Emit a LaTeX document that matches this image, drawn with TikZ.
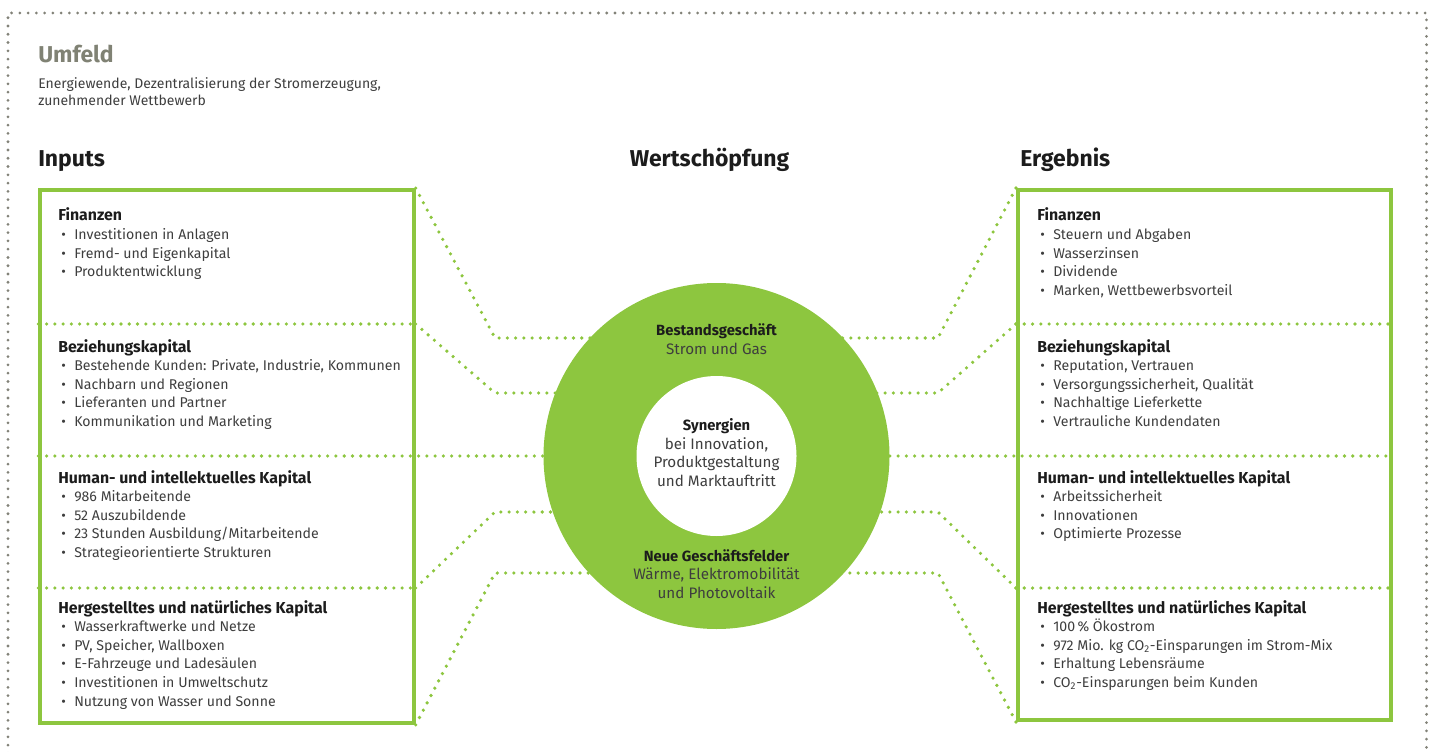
\documentclass[tikz,border=0pt]{standalone}
\usepackage{fontspec}
\setmainfont{Fira Sans}
\usetikzlibrary{calc}
\definecolor{grn}{RGB}{141,198,63}
\definecolor{frm}{RGB}{130,130,120}
\definecolor{umf}{RGB}{128,130,116}
\definecolor{txt}{RGB}{62,62,62}
\definecolor{hd}{RGB}{28,28,28}
\newcommand{\bul}{\hspace*{2.4pt}\makebox[9.6pt][l]{\raisebox{0pt}{\fontsize{10.5}{10}\selectfont •}}}
\tikzset{
  framedots/.style={frm, line width=2.3pt, line cap=round, dash pattern=on 0pt off 6.2pt},
  gdot/.style={grn, line width=2.7pt, line cap=round, dash pattern=on 0pt off 6.2pt},
  gbox/.style={draw=grn, line width=3pt, inner sep=0pt, fill=none},
  hdst/.style={anchor=base west, inner sep=0pt, text=hd, font=\fontsize{11.9}{13}\selectfont\bfseries},
  itst/.style={anchor=base west, inner sep=0pt, text=txt, font=\fontsize{10.6}{13}\selectfont},
  cbold/.style={anchor=base, inner sep=0pt, text=hd, font=\fontsize{11.1}{13}\selectfont\bfseries},
  cnorm/.style={anchor=base, inner sep=0pt, text=txt, font=\fontsize{11.4}{13}\selectfont},
  title/.style={anchor=base west, inner sep=0pt, text=hd, font=\fontsize{17.2}{20}\selectfont\bfseries},
}
\newcommand{\sect}[5]{%
  \node[hdst] (#1h) at (#2,#3) {#4};
  \foreach \t [count=\i] in {#5}
    \node[itst] (#1i\i) at (#2,{#3+\i*18.6}) {\bul\t};
}
\begin{document}
\begin{tikzpicture}[x=0.75pt,y=-0.75pt]
\useasboundingbox (0,0) rectangle (1437,752);
\clip (0,0) rectangle (1437,752);
% outer frame
\coordinate (f1) at (8,770);
\coordinate (f2) at (8,13);
\coordinate (f3) at (1426.5,13);
\coordinate (f4) at (1426.5,770);
\draw[framedots] (f1) -- (f2) -- (f3) -- (f4);
% header texts
\node[anchor=base west, inner sep=0pt, text=umf, font=\fontsize{17.2}{20}\selectfont\bfseries] (umfeld) at (38,63) {Umfeld};
\node[anchor=base west, inner sep=0pt, text=txt, font=\fontsize{10.5}{13}\selectfont] (umf1) at (38,89) {Energiewende, Dezentralisierung der Stromerzeugung,};
\node[anchor=base west, inner sep=0pt, text=txt, font=\fontsize{10.5}{13}\selectfont] (umf2) at (38,106) {zunehmender Wettbewerb};
\node[title] (inputs) at (38,167) {Inputs};
\node[title, anchor=base] (wert) at (709.5,167) {Wertschöpfung};
\node[title] (ergebnis) at (1020,167) {Ergebnis};
% boxes
\node[gbox, minimum width=280pt, minimum height=399.5pt] (lb) at (227,456.5) {};
\node[gbox, minimum width=279.75pt, minimum height=397.5pt] (rb) at (1204.5,455) {};
% dividers
\draw[gdot] (lb.west |- 0,324) -- (lb.east |- 0,324);
\draw[gdot] (lb.west |- 0,588) -- (lb.east |- 0,588);
\draw[gdot] (rb.west |- 0,324) -- (rb.east |- 0,324);
\draw[gdot] (rb.west |- 0,588) -- (rb.east |- 0,588);
\draw[gdot] (lb.west |- 0,456) -- (rb.east |- 0,456);
% bend points
\coordinate (lk1) at (495,338);
\coordinate (lk2) at (495,393);
\coordinate (lk4) at (495,512);
\coordinate (lk5) at (495,573);
\coordinate (rk1) at (938,338);
\coordinate (rk2) at (938,393);
\coordinate (rk4) at (938,512);
\coordinate (rk5) at (938,573);
\coordinate (cc) at (716.5,456);
% connectors
\draw[gdot] (lb.north east) -- (lk1) -- (cc |- lk1);
\draw[gdot] (lb.east |- 0,324) -- (lk2) -- (cc |- lk2);
\draw[gdot] (lb.east |- 0,588) -- (lk4) -- (cc |- lk4);
\draw[gdot] (lb.south east) -- (lk5) -- (cc |- lk5);
\draw[gdot] (rb.north west) -- (rk1) -- (cc |- rk1);
\draw[gdot] (rb.west |- 0,324) -- (rk2) -- (cc |- rk2);
\draw[gdot] (rb.west |- 0,588) -- (rk4) -- (cc |- rk4);
\draw[gdot] (rb.south west) -- (rk5) -- (cc |- rk5);
% circle
\node[circle, fill=grn, minimum size=259.5pt, inner sep=0pt] (c) at (cc) {};
\node[circle, fill=white, minimum size=120pt, inner sep=0pt] (ci) at (cc) {};
\node[cbold] (ct1) at (716.5,335) {Bestandsgeschäft};
\node[cnorm] (ct2) at (716.5,354) {Strom und Gas};
\node[cbold] (ct3) at (716.5,430.5) {Synergien};
\node[cnorm] (ct4) at (716.5,449) {bei Innovation,};
\node[cnorm] (ct5) at (716.5,467.5) {Produktgestaltung};
\node[cnorm] (ct6) at (716.5,486) {und Marktauftritt};
\node[cbold] (ct7) at (716.5,561) {Neue Geschäftsfelder};
\node[cnorm] (ct8) at (716.5,579.5) {Wärme, Elektromobilität};
\node[cnorm] (ct9) at (716.5,598) {und Photovoltaik};
% left sections
\sect{la}{58}{221}{Finanzen}{Investitionen in Anlagen, Fremd- und Eigenkapital, Produktentwicklung}
\sect{lbz}{58}{352}{Beziehungskapital}{{Bestehende Kunden: Private, Industrie, Kommunen}, Nachbarn und Regionen, Lieferanten und Partner, Kommunikation und Marketing}
\sect{lc}{58}{483}{Human- und intellektuelles Kapital}{986 Mitarbeitende, 52 Auszubildende, 23 Stunden Ausbildung/Mitarbeitende, Strategieorientierte Strukturen}
\sect{ld}{58}{613}{Hergestelltes und natürliches Kapital}{Wasserkraftwerke und Netze, {PV, Speicher, Wallboxen}, E-Fahrzeuge und Ladesäulen, Investitionen in Umweltschutz, Nutzung von Wasser und Sonne}
% right sections
\sect{ra}{1037}{221}{Finanzen}{Steuern und Abgaben, Wasserzinsen, Dividende, {Marken, Wettbewerbsvorteil}}
\sect{rbz}{1037}{352}{Beziehungskapital}{{Reputation, Vertrauen}, {Versorgungssicherheit, Qualität}, Nachhaltige Lieferkette, Vertrauliche Kundendaten}
\sect{rc}{1037}{483}{Human- und intellektuelles Kapital}{Arbeitssicherheit, Innovationen, Optimierte Prozesse}
\sect{rd}{1037}{613}{Hergestelltes und natürliches Kapital}{100\,\% Ökostrom, 972 Mio. kg CO\textsubscript{2}-Einsparungen im Strom-Mix, Erhaltung Lebensräume, CO\textsubscript{2}-Einsparungen beim Kunden}
\end{tikzpicture}
\end{document}
